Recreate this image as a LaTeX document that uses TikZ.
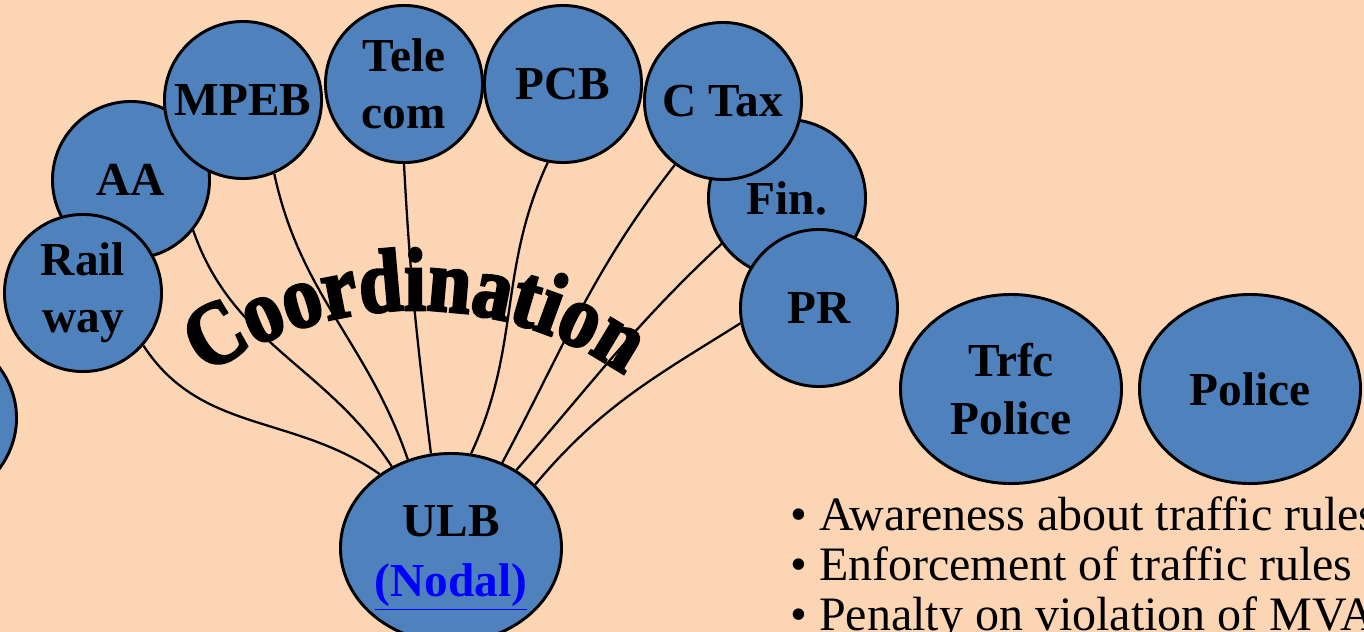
\documentclass[tikz,border=0pt]{standalone}
\usepackage{fontspec}
\setmainfont{Liberation Serif}
\newfontfamily\archfamily[FakeStretch=0.87, FakeBold=3]{Liberation Serif}
\usetikzlibrary{shapes.geometric,decorations.text}
\definecolor{peach}{HTML}{FCD5B4}
\definecolor{orgblue}{HTML}{4F81BD}
\newcommand\orgfont{\fontsize{35.5}{43}\selectfont\bfseries}
\newcommand\archfont{\archfamily\fontsize{67}{67}\selectfont\bfseries}

\begin{document}
\begin{tikzpicture}[x=0.75pt, y=0.75pt,
        O/.style = {circle, draw, line width=2.2pt, fill=orgblue,
                    minimum size=117.8pt, inner sep=0pt,
                    align=center, font=\orgfont},
        E/.style = {ellipse, draw, line width=2.2pt, fill=orgblue,
                    minimum width=165.8pt, minimum height=141.8pt,
                    inner sep=0pt, align=center, font=\orgfont},
        L/.style = {line width=1.7pt},
        T/.style = {anchor=base west, inner sep=0pt,
                    font=\fontsize{36}{37.5}\selectfont}
                                ]
        % canvas
        \useasboundingbox (0,0) rectangle (1364,-632);
        \clip (0,0) rectangle (1364,-632);
        \fill[peach] (0,0) rectangle (1364,-632);
        % agencies
        \node[E] (other)  at (-94,-418)  {};
        \node[O] (aa)     at (131,-180)  {AA};
        \node[O] (rail)   at (83,-293)   {Rail\\way};
        \node[O] (mpeb)   at (243,-100)  {MPEB};
        \node[O] (tele)   at (404,-84)   {Tele\\com};
        \node[O] (pcb)    at (563,-84)   {PCB};
        \node[O] (fin)    at (787,-198)  {Fin.};
        \node[O] (ctax)   at (723,-101)  {C Tax};
        \node[O] (pr)     at (819,-308)  {PR};
        \node[E] (trfc)   at (1011,-389) {Trfc\\Police};
        \node[E] (police) at (1250,-389) {Police};
        \node[E] (ulb)    at (451,-548)
            {\rule{0pt}{38pt}ULB\\[2pt]\textcolor{blue}{\underline{(Nodal)}}};

        % links to the nodal body
        \draw[L] (rail.-41)  to[out=-57,  in=145] (ulb.134);
        \draw[L] (aa.-39)    to[out=-71,  in=123] (ulb.126);
        \draw[L] (mpeb.-67)  to[out=-78,  in=109] (ulb.116);
        \draw[L] (tele.-90)  to[out=-87,  in=97]  (ulb.102);
        \draw[L] (pcb.-101)  to[out=-115, in=65]  (ulb.78);
        \draw[L] (ctax.-127) to[out=-128, in=62]  (ulb.59);
        \draw[L] (fin.-145)  to[out=-137, in=49]  (ulb.50);
        \draw[L] (pr.-169)   to[out=-148, in=50]  (ulb.37);

        % arched title
        \path[decorate, decoration={text along path, text align=center,
                                    text={|\archfont|Coordination}}]
            (415,-680) ++(132:370) arc[start angle=132, end angle=48, radius=370];

        % duties
        \node[T] (aware)   at (790,-530) {• Awareness about traffic rules};
        \node[T] (enforce) at (790,-580) {• Enforcement of traffic rules};
        \node[T] (penalty) at (790,-630) {• Penalty on violation of MVA};
    \end{tikzpicture}
\end{document}
